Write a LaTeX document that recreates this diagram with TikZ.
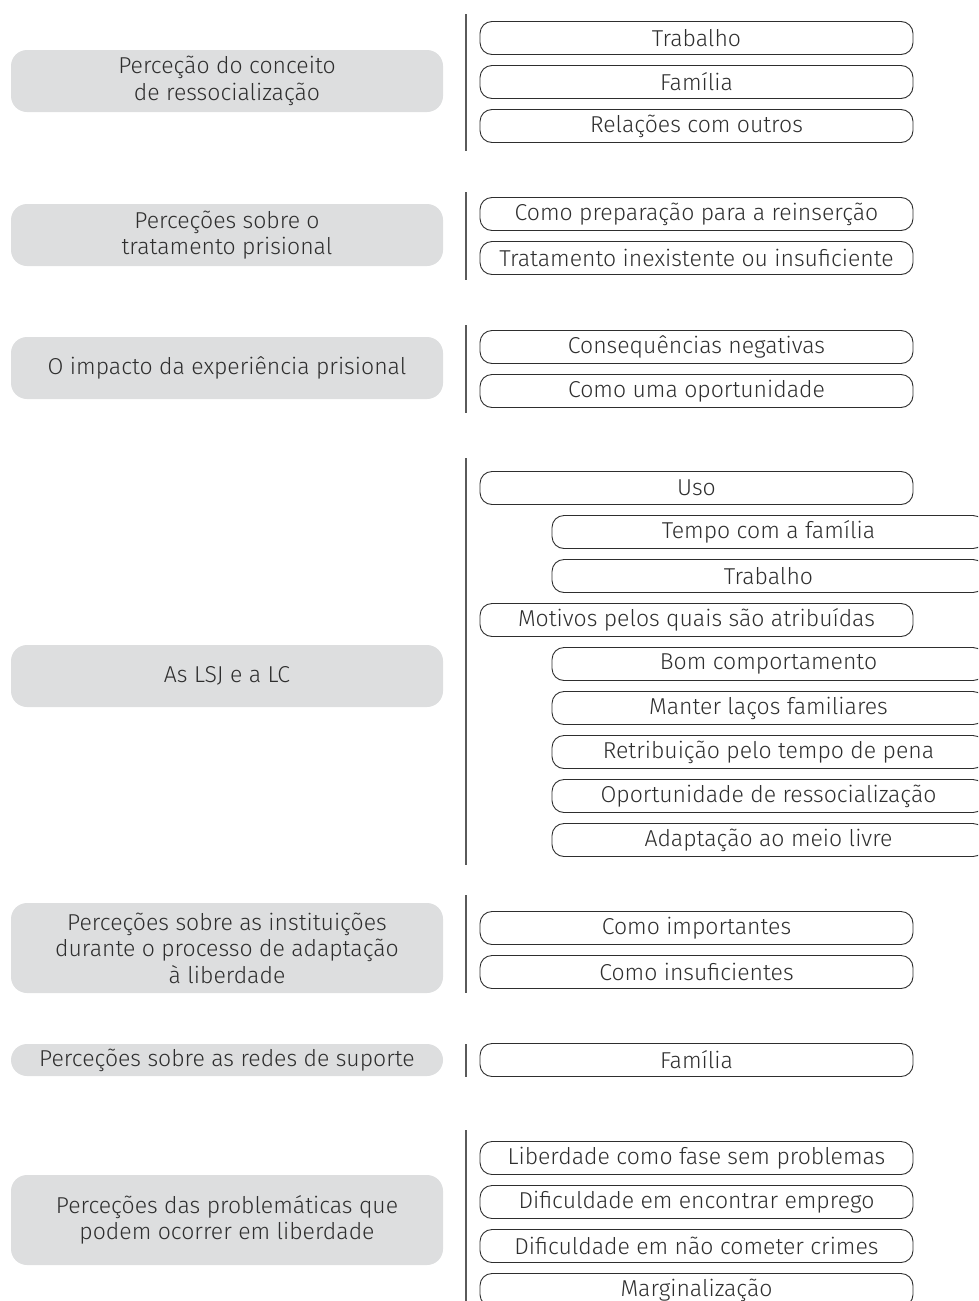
\documentclass[tikz,border=0pt]{standalone}
\usepackage{fontspec}
\setmainfont{Fira Sans}[UprightFont=* Light]
\usetikzlibrary{positioning}

\definecolor{themegrey}{HTML}{DDDEDF}
\definecolor{ink}{HTML}{2E2E2E}
\definecolor{barline}{HTML}{5A5A5A}

\begin{document}
\begin{tikzpicture}[x=1pt,y=-1pt,
   theme/.style={fill=themegrey,rounded corners=16pt,minimum width=432pt,inner sep=0pt,align=center,text=ink,font=\fontsize{23}{26.5}\selectfont},
   sub/.style={draw=ink,line width=0.9pt,rounded corners=12pt,minimum width=433pt,minimum height=33pt,inner sep=0pt,text=ink,font=\fontsize{23}{26.5}\selectfont},
   bar/.style={draw=barline,line width=1.4pt}]

   \useasboundingbox (0,0) rectangle (978,1301);
   \clip (0,0) rectangle (978,1301);

   % Themes
      \node[theme,minimum height=62pt] (conc) at (227,81)   {Perceção do conceito\\de ressocialização};
      \node[theme,minimum height=62pt] (trat) at (227,235)  {Perceções sobre o\\tratamento prisional};
      \node[theme,minimum height=62pt] (impc) at (227,368)  {O impacto da experiência prisional};
      \node[theme,minimum height=62pt] (lsjc) at (227,676)  {As LSJ e a LC};
      \node[theme,minimum height=90pt] (inst) at (227,948)  {Perceções sobre as instituições\\durante o processo de adaptação\\à liberdade};
      \node[theme,minimum height=32pt] (rede) at (227,1060) {Perceções sobre as redes de suporte};
      \node[theme,minimum height=90pt] (prob) at (227,1220) {Perceções das problemáticas que\\podem ocorrer em liberdade};

   % Subthemes
      \node[sub] (conc1) at (696.5,38)  {Trabalho};
      \node[sub] (conc2) at (696.5,82)  {Família};
      \node[sub] (conc3) at (696.5,126) {Relações com outros};

      \node[sub] (trat1) at (696.5,214) {Como preparação para a reinserção};
      \node[sub] (trat2) at (696.5,258) {Tratamento inexistente ou insuficiente};

      \node[sub] (impc1) at (696.5,347) {Consequências negativas};
      \node[sub] (impc2) at (696.5,391) {Como uma oportunidade};

      \node[sub] (uso)   at (696.5,488) {Uso};
      \node[sub] (uso1)  at (768.5,532) {Tempo com a família};
      \node[sub] (uso2)  at (768.5,576) {Trabalho};
      \node[sub] (motv)  at (696.5,620) {Motivos pelos quais são atribuídas};
      \node[sub] (motv1) at (768.5,664) {Bom comportamento};
      \node[sub] (motv2) at (768.5,708) {Manter laços familiares};
      \node[sub] (motv3) at (768.5,752) {Retribuição pelo tempo de pena};
      \node[sub] (motv4) at (768.5,796) {Oportunidade de ressocialização};
      \node[sub] (motv5) at (768.5,840) {Adaptação ao meio livre};

      \node[sub] (inst1) at (696.5,928) {Como importantes};
      \node[sub] (inst2) at (696.5,972) {Como insuficientes};

      \node[sub] (rede1) at (696.5,1060) {Família};

      \node[sub] (prob1) at (696.5,1158) {Liberdade como fase sem problemas};
      \node[sub] (prob2) at (696.5,1202) {Dificuldade em encontrar emprego};
      \node[sub] (prob3) at (696.5,1246) {Dificuldade em não cometer crimes};
      \node[sub] (prob4) at (696.5,1290) {Marginalização};

   % Dividers
      \coordinate (d1a) at (466,14);   \coordinate (d1b) at (466,151);
      \coordinate (d2a) at (466,192);  \coordinate (d2b) at (466,280);
      \coordinate (d3a) at (466,325);  \coordinate (d3b) at (466,413);
      \coordinate (d4a) at (466,458);  \coordinate (d4b) at (466,865);
      \coordinate (d5a) at (466,895);  \coordinate (d5b) at (466,993);
      \coordinate (d6a) at (466,1044); \coordinate (d6b) at (466,1077);
      \coordinate (d7a) at (466,1130); \coordinate (d7b) at (466,1301);
      \foreach \i in {1,...,7}
         \draw[bar] (d\i a) -- (d\i b);
\end{tikzpicture}
\end{document}
